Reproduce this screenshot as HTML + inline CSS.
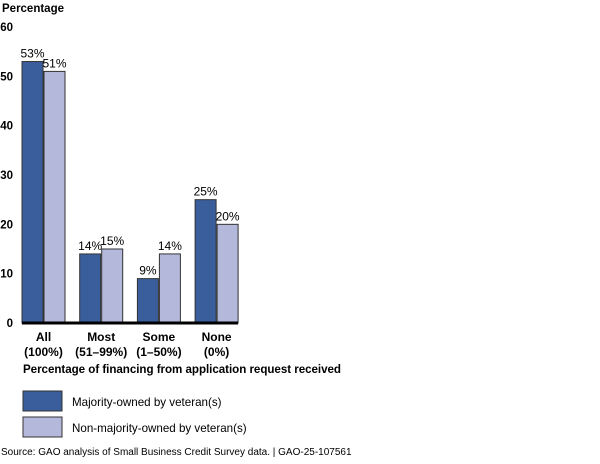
<!DOCTYPE html>
<html><head><meta charset="utf-8"><style>
html,body{margin:0;padding:0;background:#fff;}
svg text{font-family:"Liberation Sans",Arial,sans-serif;}
</style></head><body>
<svg id="chart" width="600" height="459" viewBox="0 0 600 459">
<text x="2" y="12" font-size="11.5" font-weight="bold" fill="#000">Percentage</text>
<g id="yticks"></g>
<g id="bars"></g>
<g id="xlabels"></g>
<line x1="22" y1="323" x2="238" y2="323" stroke="#000" stroke-width="3"/>
<text x="23" y="373" font-size="11.6" font-weight="bold" fill="#000" textLength="318">Percentage of financing from application request received</text>
<rect x="23" y="391" width="39" height="20" fill="#3a5e9c" stroke="#333"/>
<text x="72" y="406" font-size="11.6" fill="#000">Majority-owned by veteran(s)</text>
<rect x="23" y="417" width="39" height="20" fill="#b4b9dc" stroke="#333"/>
<text x="72" y="432" font-size="11.6" fill="#000">Non-majority-owned by veteran(s)</text>
<text x="1" y="455" font-size="10" fill="#000">Source: GAO analysis of Small Business Credit Survey data.  |  GAO-25-107561</text>
</svg>
<script>
const categories = ["All", "Most", "Some", "None"];
const subLabels = ["(100%)", "(51\u201399%)", "(1\u201350%)", "(0%)"];
const majority = [53, 14, 9, 25];
const nonMajority = [51, 15, 14, 20];
const yTicks = [0, 10, 20, 30, 40, 50, 60];

const NS = "http://www.w3.org/2000/svg";
const y0 = 323, y60 = 27;
function yScale(v){ return y0 - (v/60)*(y0-y60); }
const groupStart = 22, groupStep = 57.7, barW = 21;
function xScale(i){ return groupStart + i*groupStep; }

const yt = document.getElementById("yticks");
yTicks.forEach(t => {
  const el = document.createElementNS(NS, "text");
  el.setAttribute("x", 13); el.setAttribute("y", yScale(t)+4);
  el.setAttribute("text-anchor", "end"); el.setAttribute("font-size", "11.5");
  el.setAttribute("font-weight", "bold");
  el.textContent = t;
  
  
  yt.appendChild(el);
});

const bars = document.getElementById("bars");
function bar(x, v, fill, name){
  const r = document.createElementNS(NS, "rect");
  r.setAttribute("x", x); r.setAttribute("y", yScale(v));
  r.setAttribute("width", barW); r.setAttribute("height", y0 - yScale(v));
  r.setAttribute("fill", fill); r.setAttribute("stroke", "#333"); r.setAttribute("stroke-width", "1");
  
  
  bars.appendChild(r);
  const t = document.createElementNS(NS, "text");
  t.setAttribute("x", x + barW/2); t.setAttribute("y", yScale(v) - 4);
  t.setAttribute("text-anchor", "middle"); t.setAttribute("font-size", "12");
  t.textContent = v + "%";
  
  
  bars.appendChild(t);
}
categories.forEach((c, i) => {
  bar(xScale(i), majority[i], "#3a5e9c", "bar-majority-" + c.toLowerCase());
  bar(xScale(i) + barW + 1, nonMajority[i], "#b4b9dc", "bar-non-majority-" + c.toLowerCase());
  const cx = xScale(i) + barW + 0.5;
  const xl = document.getElementById("xlabels");
  [c, subLabels[i]].forEach((s, k) => {
    const t = document.createElementNS(NS, "text");
    t.setAttribute("x", cx); t.setAttribute("y", 341 + k*15);
    t.setAttribute("text-anchor", "middle"); t.setAttribute("font-size", "12");
    t.setAttribute("font-weight", "bold");
    t.textContent = s;
    
    
    xl.appendChild(t);
  });
});
</script>
</body></html>
